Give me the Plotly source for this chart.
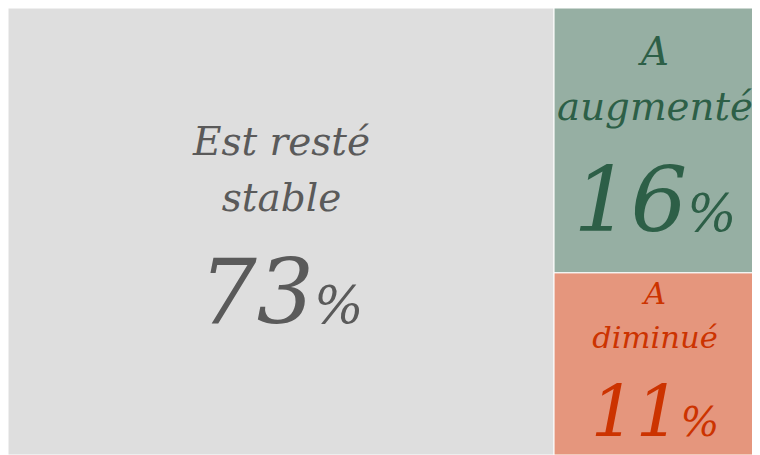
import plotly.graph_objects as go

labels = ["Est resté<br>stable", "A<br>augmenté", "A<br>diminué"]
shares = [73, 16, 11]
tile_colors = ["#dedede", "#96afa3", "#e5967d"]
text_colors = ["#5a5a5a", "#2d5f47", "#cc3300"]

fig = go.Figure(go.Treemap(
    labels=labels,
    parents=["", "", ""],
    values=shares,
    sort=True,
    texttemplate="<span style='font-size:39px'>%{label}</span><br><br>"
                 "<span style='font-size:90px'>%{value}</span>"
                 "<span style='font-size:52px'>%</span>",
    textposition="middle center",
    insidetextfont=dict(family="Georgia, 'DejaVu Serif', serif", style="italic",
                        size=43, color=text_colors),
    marker=dict(colors=tile_colors, line=dict(color="white", width=1), pad=dict(t=0, l=0, r=0, b=0)),
    pathbar=dict(visible=False),
    hoverinfo="label+value",
    tiling=dict(pad=0),
))

fig.update_layout(
    width=748, height=447,
    margin=dict(l=0, r=0, t=0, b=0),
    paper_bgcolor="white",
)

fig.write_html("out.html")
